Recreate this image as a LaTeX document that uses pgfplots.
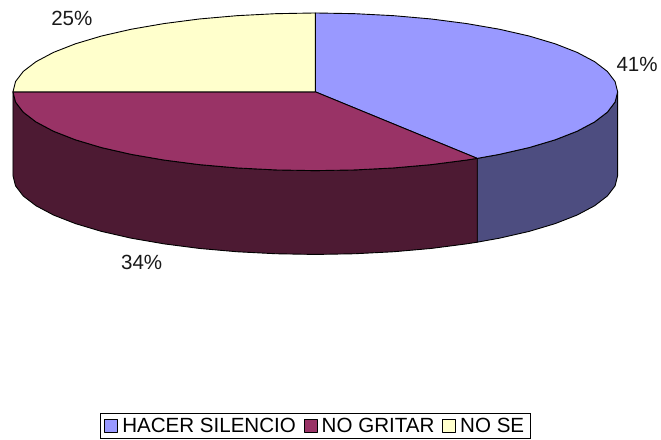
\documentclass[border=0pt]{standalone}
\usepackage{fontspec}
\setmainfont{Liberation Sans}
\usepackage{pgfplots}
\pgfplotsset{compat=1.18}
\definecolor{azul}{HTML}{9999FF}
\definecolor{azulosc}{HTML}{4D4D80}
\definecolor{vino}{HTML}{993366}
\definecolor{vinoosc}{HTML}{4D1A33}
\definecolor{crema}{HTML}{FFFFCC}
\newcommand{\fs}{\fontsize{20.6}{24}\selectfont}
\begin{document}
\begin{tikzpicture}
\begin{axis}[scale only axis,width=661pt,height=440pt,xmin=0,xmax=661,ymin=0,ymax=440,y dir=reverse,
  hide axis,clip=false,
  legend columns=3,
  legend image code/.code={\draw[#1,line width=0.9pt] (0pt,-6.5pt) rectangle (13pt,6.5pt);},
  legend style={at={(axis cs:316,439.5)},anchor=south,font=\fs,draw=black,line width=0.9pt,
    inner xsep=4pt,inner ysep=3.5pt,row sep=0pt,
    nodes={inner xsep=2pt,inner ysep=1pt},
    /tikz/every even column/.append style={column sep=6pt},
    /tikz/every odd column/.append style={column sep=2pt}},
  every axis plot/.append style={draw=black,line width=0.9pt,line join=round}]
\path (axis cs:0,0) rectangle (axis cs:661,440);
% side of the slices
\addplot[fill=azulosc,forget plot] coordinates {(619,92) (616.4,102.3) (608.7,112.4) (595.9,122.2) (578.4,131.5) (556.4,140.1) (530.3,147.9) (500.5,154.7) (478.3,158.7)
  (478.3,242.7) (500.5,238.7) (530.3,231.9) (556.4,224.1) (578.4,215.5) (595.9,206.2) (608.7,196.4) (616.4,186.3) (619,176)} -- cycle;
\addplot[fill=vinoosc,forget plot] coordinates {(478.3,158.7) (467.5,160.4) (432,165) (394.4,168.3) (355.5,170.3) (316,171) (276.5,170.3) (237.6,168.3) (200,165) (164.5,160.4) (131.5,154.7) (101.7,147.9) (75.6,140.1) (53.6,131.5) (36.1,122.2) (23.3,112.4) (15.6,102.3) (13,92)
  (13,176) (15.6,186.3) (23.3,196.4) (36.1,206.2) (53.6,215.5) (75.6,224.1) (101.7,231.9) (131.5,238.7) (164.5,244.4) (200,249) (237.6,252.3) (276.5,254.3) (316,255) (355.5,254.3) (394.4,252.3) (432,249) (467.5,244.4) (478.3,242.7)} -- cycle;
% top of the slices: 41, 34, 25
\addplot[fill=azul] coordinates {(316,92) (316,13) (355.5,13.7) (394.4,15.7) (432,19) (467.5,23.6) (500.5,29.3) (530.3,36.1) (556.4,43.9) (578.4,52.5) (595.9,61.8) (608.7,71.6) (616.4,81.7) (619,92) (616.4,102.3) (608.7,112.4) (595.9,122.2) (578.4,131.5) (556.4,140.1) (530.3,147.9) (500.5,154.7) (478.3,158.7)} -- cycle;
\addlegendentry{HACER SILENCIO}
\addplot[fill=vino] coordinates {(316,92) (478.3,158.7) (467.5,160.4) (432,165) (394.4,168.3) (355.5,170.3) (316,171) (276.5,170.3) (237.6,168.3) (200,165) (164.5,160.4) (131.5,154.7) (101.7,147.9) (75.6,140.1) (53.6,131.5) (36.1,122.2) (23.3,112.4) (15.6,102.3) (13,92)} -- cycle;
\addlegendentry{NO GRITAR}
\addplot[fill=crema] coordinates {(316,92) (13,92) (15.6,81.7) (23.3,71.6) (36.1,61.8) (53.6,52.5) (75.6,43.9) (101.7,36.1) (131.5,29.3) (164.5,23.6) (200,19) (237.6,15.7) (276.5,13.7) (316,13)} -- cycle;
\addlegendentry{NO SE}
\node[font=\fs,text=black!90] at (axis cs:638.5,64.5) {41\%};
\node[font=\fs,text=black!90] at (axis cs:142,263) {34\%};
\node[font=\fs,text=black!90] at (axis cs:72,18.5) {25\%};
\end{axis}
\end{tikzpicture}
\end{document}
